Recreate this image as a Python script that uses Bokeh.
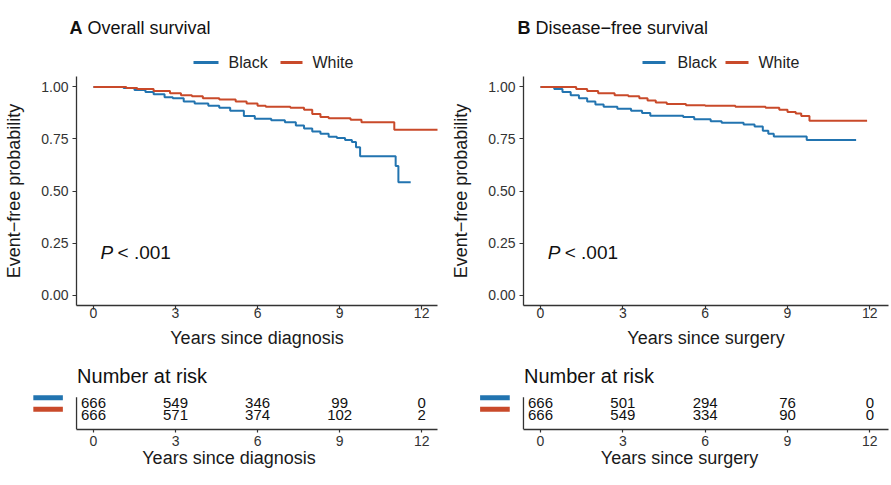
from bokeh.plotting import figure
from bokeh.layouts import column, row
from bokeh.models import Range1d, Label, NumeralTickFormatter
from bokeh.embed import file_html
from bokeh.resources import INLINE
from bokeh.core.properties import value

FONT = "Liberation Sans"
BLUE = "#2274B0"
RED = "#C94A2A"
AXC = "#333333"

groups = ["Black", "White"]
time_ticks = [0, 3, 6, 9, 12]
prob_ticks = [0, 0.25, 0.5, 0.75, 1.0]

# Panel A: overall survival
os_black_t = [0, 1.1, 1.5, 1.9, 2.2, 2.6, 2.9, 3.3, 3.7, 4.2, 4.6, 5.0, 5.5, 5.9, 6.5, 7.0, 7.4, 7.7, 8.0, 8.3, 8.6, 8.9, 9.2, 9.45, 9.6, 9.75, 11.05, 11.15, 11.6]
os_black_s = [1.0, 0.995, 0.985, 0.975, 0.965, 0.95, 0.945, 0.93, 0.92, 0.91, 0.9, 0.885, 0.86, 0.847, 0.84, 0.83, 0.815, 0.80, 0.786, 0.775, 0.76, 0.754, 0.745, 0.735, 0.71, 0.667, 0.62, 0.542, 0.542]
os_white_t = [0, 1.2, 1.6, 2.2, 2.8, 3.2, 3.6, 4.0, 4.6, 5.2, 5.6, 6.0, 6.3, 7.2, 7.7, 8.0, 8.3, 8.6, 9.4, 9.8, 11.0, 12.6]
os_white_s = [1.0, 0.995, 0.99, 0.98, 0.97, 0.96, 0.955, 0.945, 0.94, 0.93, 0.92, 0.91, 0.905, 0.90, 0.89, 0.87, 0.855, 0.85, 0.842, 0.83, 0.794, 0.794]
os_risk_black = [666, 549, 346, 99, 0]
os_risk_white = [666, 571, 374, 102, 2]

# Panel B: disease-free survival
dfs_black_t = [0, 0.5, 0.8, 1.1, 1.4, 1.7, 2.0, 2.3, 2.8, 3.3, 3.7, 4.0, 5.2, 5.6, 6.2, 6.6, 7.4, 7.8, 8.1, 8.3, 8.5, 9.7, 11.5]
dfs_black_s = [1.0, 0.99, 0.975, 0.96, 0.945, 0.93, 0.915, 0.905, 0.895, 0.885, 0.875, 0.862, 0.855, 0.845, 0.835, 0.828, 0.82, 0.81, 0.79, 0.775, 0.762, 0.745, 0.745]
dfs_white_t = [0, 1.3, 1.7, 2.1, 2.7, 3.2, 3.6, 3.9, 4.2, 4.6, 5.3, 6.0, 7.1, 8.2, 8.7, 9.0, 9.3, 9.5, 9.8, 11.9]
dfs_white_s = [1.0, 0.99, 0.98, 0.97, 0.96, 0.955, 0.945, 0.935, 0.925, 0.918, 0.912, 0.91, 0.905, 0.90, 0.89, 0.88, 0.872, 0.86, 0.837, 0.837]
dfs_risk_black = [666, 501, 294, 76, 0]
dfs_risk_white = [666, 549, 334, 90, 0]


def style_axis(ax):
    ax.axis_line_color = AXC
    ax.axis_line_width = 1.3
    ax.major_tick_line_color = AXC
    ax.major_tick_line_width = 1.2
    ax.major_tick_out = 4
    ax.major_tick_in = 0
    ax.minor_tick_line_color = None
    ax.major_label_text_font = FONT
    ax.major_label_text_font_size = "14px"
    ax.major_label_text_color = "#333333"
    ax.axis_label_text_font = FONT
    ax.axis_label_text_font_size = "18px"
    ax.axis_label_text_font_style = "normal"
    ax.axis_label_text_color = "#1a1a1a"


def header_fig(width, letter, title, letter_x, title_x, key_x0, key_x1, lab_x):
    h = figure(width=width, height=76, x_range=Range1d(0, width), y_range=Range1d(76, 0),
               x_axis_location=None, y_axis_location=None, min_border=0,
               output_backend="svg", toolbar_location=None)
    h.grid.visible = False
    h.outline_line_color = None
    h.text(x=[letter_x], y=[27], text=[letter], text_font=value(FONT), text_font_size="18px",
           text_font_style="bold", text_baseline="middle", text_color="#111111")
    h.text(x=[title_x], y=[27], text=[title], text_font=value(FONT), text_font_size="18px",
           text_baseline="middle", text_color="#111111")
    h.segment(x0=key_x0, x1=key_x1, y0=[62, 62], y1=[62, 62], line_color=[BLUE, RED], line_width=3)
    h.text(x=lab_x, y=[62, 62], text=groups, text_font=value(FONT), text_font_size="16px",
           text_baseline="middle", text_color="#222222")
    return h


def km_fig(width, mbl, mbr, xr, xlabel, bt, bs, wt, ws):
    p = figure(width=width, height=279, x_range=Range1d(*xr), y_range=Range1d(-0.05, 1.05),
               output_backend="svg", toolbar_location=None,
               min_border_left=mbl, min_border_right=mbr, min_border_top=0, min_border_bottom=50)
    p.grid.visible = False
    p.outline_line_color = None
    style_axis(p.xaxis[0])
    style_axis(p.yaxis[0])
    p.xaxis.ticker = time_ticks
    p.yaxis.ticker = prob_ticks
    p.yaxis.formatter = NumeralTickFormatter(format="0.00")
    p.xaxis.axis_label = xlabel
    p.yaxis.axis_label = "Event\u2212free probability"
    p.xaxis.major_label_standoff = -2
    p.xaxis.axis_label_standoff = 7
    p.yaxis.major_label_standoff = 4
    p.yaxis.axis_label_standoff = 14

    p.step(bt, bs, mode="after", line_color=BLUE, line_width=2)
    p.step(wt, ws, mode="after", line_color=RED, line_width=2)

    p.add_layout(Label(x=0.26, y=0.205, text="P", text_font=FONT, text_font_size="19px",
                       text_font_style="italic", text_baseline="middle", text_color="#111111"))
    p.add_layout(Label(x=0.88, y=0.205, text="< .001", text_font=FONT, text_font_size="19px",
                       text_baseline="middle", text_color="#111111"))
    return p


def table_fig(width, mbl, mbr, xr, axis_lo, rb, rw, xlabel):
    p = figure(width=width, height=130, x_range=Range1d(*xr), y_range=Range1d(-0.304, 5.696),
               output_backend="svg", toolbar_location=None,
               min_border_left=mbl, min_border_right=mbr, min_border_top=5, min_border_bottom=56)
    p.grid.visible = False
    p.outline_line_color = None
    p.yaxis.visible = False
    style_axis(p.xaxis[0])
    p.xaxis.major_tick_out = 3
    p.xaxis.ticker = time_ticks
    p.xaxis.bounds = (axis_lo, xr[1])
    p.xaxis.axis_label = xlabel
    p.xaxis.major_label_standoff = 3
    p.xaxis.axis_label_standoff = -1

    rows_y = [2, 1]
    # left rule of the table
    p.segment(x0=[axis_lo], x1=[axis_lo], y0=[-0.304], y1=[2.5], line_color=AXC, line_width=1.3)
    # colour keys
    p.segment(x0=[-2.2, -2.2], x1=[-1.12, -1.12], y0=[r + 0.45 for r in rows_y],
              y1=[r + 0.45 for r in rows_y], line_color=[BLUE, RED], line_width=5)
    for r, counts in zip(rows_y, [rb, rw]):
        p.text(x=time_ticks, y=[r] * len(time_ticks), text=[str(c) for c in counts],
               text_align="center", text_baseline="middle", text_font=value(FONT),
               text_font_size="15px", text_color="#111111")
    p.text(x=[axis_lo + 0.02], y=[4.39], text=["Number at risk"], text_align="left",
           text_baseline="middle", text_font=value(FONT), text_font_size="20px", text_color="#111111")
    return p


hA = header_fig(445, "A", "Overall survival", 69, 87, [193, 280], [218, 302], [228, 312])
hB = header_fig(446, "B", "Disease\u2212free survival", 72, 90, [197, 280], [220, 303], [232, 313])
pA = km_fig(445, 76, 8, (-0.62, 12.58), "Years since diagnosis",
            os_black_t, os_black_s, os_white_t, os_white_s)
pB = km_fig(446, 78, 3, (-0.62, 12.68), "Years since surgery",
            dfs_black_t, dfs_black_s, dfs_white_t, dfs_white_s)
tA = table_fig(445, 20, 8, (-2.669, 12.578), -0.62, os_risk_black, os_risk_white, "Years since diagnosis")
tB = table_fig(446, 25, 3, (-2.55, 12.68), -0.62, dfs_risk_black, dfs_risk_white, "Years since surgery")

layout = column(row(hA, hB), row(pA, pB), row(tA, tB))
open("out.html", "w").write(file_html(layout, INLINE))
